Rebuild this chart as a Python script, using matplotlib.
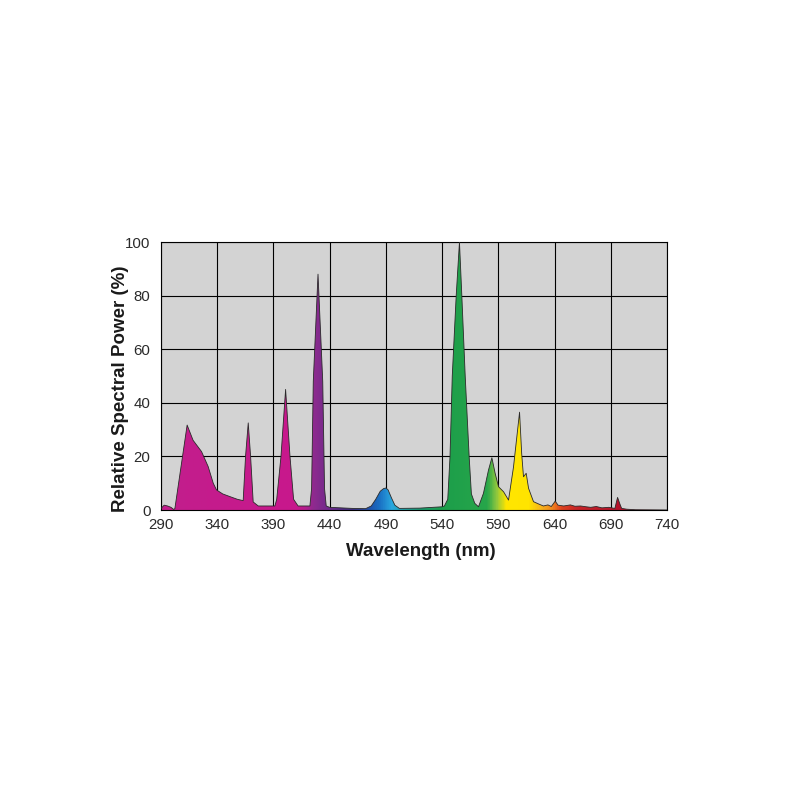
import numpy as np
import matplotlib
matplotlib.use("Agg")
import matplotlib.pyplot as plt
from matplotlib import font_manager
from matplotlib.colors import LinearSegmentedColormap
from matplotlib.patches import Polygon

plt.rcParams['font.family'] = ['Liberation Sans', 'DejaVu Sans']

# Spectrum data (wavelength nm, relative power %)
wavelength = [290, 293, 296, 299, 301.5, 302.5, 313.4, 318.7, 326.2, 332.1, 336.6, 339.5,
              345, 351.4, 358, 363.2, 365.3, 367.7, 369.8, 372.1, 376.6, 391.4,
              393, 396.8, 400.9, 404.8, 408, 412, 422.5, 424, 425.5, 429.7, 433.9,
              435.5, 437, 440, 460, 472, 477, 481, 485, 488, 490, 492, 495, 498, 502,
              520, 540, 542, 545, 547, 549, 552.5, 555.4, 557.5, 560.5, 564, 566,
              569, 572.3, 576.7, 581.2, 584.2, 587.1, 590.1, 594.6, 599, 603.4,
              608.8, 610.7, 612.3, 614.7, 616.8, 621.2, 626, 630, 634, 637, 640.5,
              643, 648, 654, 658, 663, 668, 672, 677, 682, 688, 693.5, 695.9, 698,
              699.5, 704, 712, 740]
power = [0.5, 1.8, 1.5, 1.0, 0.2, 0.5, 31.7, 26.0, 21.8, 16.2, 10.0, 7.5,
         6.0, 5.0, 4.0, 3.5, 20.0, 32.5, 20.0, 3.0, 1.5, 1.5,
         4.0, 20.0, 45.0, 20.0, 4.0, 1.5, 1.5, 8.0, 48.0, 88.0, 48.0,
         8.0, 1.5, 1.0, 0.6, 0.5, 1.5, 4.0, 7.0, 8.0, 8.2, 7.5, 4.5, 1.8, 0.6,
         0.7, 1.2, 1.5, 4.0, 20.0, 50.0, 80.0, 100.0, 80.0, 50.0, 20.0, 6.0,
         2.5, 1.2, 6.2, 14.9, 19.5, 13.7, 8.7, 6.8, 3.7, 16.0,
         36.5, 21.0, 12.4, 13.7, 8.1, 3.1, 2.2, 1.5, 1.9, 1.3, 3.3,
         1.8, 1.5, 1.9, 1.4, 1.5, 1.2, 1.0, 1.3, 0.8, 1.0, 0.6, 4.7, 2.2,
         0.6, 0.3, 0.1, 0.0]

x_ticks = [290, 340, 390, 440, 490, 540, 590, 640, 690, 740]
y_ticks = [0, 20, 40, 60, 80, 100]

# spectral colour anchors (wavelength, colour)
spec_anchors = [(290, '#C21E8C'), (410, '#C8188C'), (418, '#B41E8D'), (425, '#8E2A8F'),
                (440, '#6C2A8A'), (460, '#3C2E82'), (475, '#1F52AA'), (484, '#1A70C4'),
                (495, '#2AA8E0'), (505, '#1FA0A8'), (520, '#1A9A70'), (540, '#1C9E4A'),
                (580, '#27A64A'), (588, '#8CC63F'), (597, '#FFE600'), (617, '#FFE400'),
                (627, '#F7B81A'), (637, '#F08A1E'), (646, '#DE421E'), (660, '#C62428'),
                (690, '#B8162A'), (700, '#B4102A'), (740, '#921020')]

names = {f.name for f in font_manager.fontManager.ttflist}
if 'Liberation Sans Narrow' in names:
    tick_family, tick_size = ['Liberation Sans Narrow', 'DejaVu Sans'], 12
else:
    tick_family, tick_size = ['Liberation Sans', 'DejaVu Sans'], 10.8

fig = plt.figure(figsize=(8, 8), dpi=100)
ax = fig.add_axes([0.201, 0.3625, 0.633, 0.335])
ax.set_facecolor('#D3D3D3')

x0, x1 = 290, 740
cmap = LinearSegmentedColormap.from_list(
    'spec', [((w - x0) / (x1 - x0), c) for w, c in spec_anchors])
grad = np.linspace(0, 1, 1200)[None, :]

verts = list(zip(wavelength, power)) + [(wavelength[-1], 0), (wavelength[0], 0)]
poly = Polygon(verts, closed=True, facecolor='none', edgecolor='none', transform=ax.transData)
ax.add_patch(poly)
im = ax.imshow(grad, extent=[x0, x1, 0, 100], aspect='auto', origin='lower',
               cmap=cmap, zorder=2, interpolation='bilinear')
im.set_clip_path(poly)
ax.plot(wavelength, power, color='#2a2a2a', lw=0.6, zorder=3)

ax.set_xlim(x0, x1)
ax.set_ylim(0, 100)
ax.set_xticks(x_ticks)
ax.set_yticks(y_ticks)
ax.grid(True, color='black', lw=0.8)
ax.set_axisbelow(True)
for s in ax.spines.values():
    s.set_color('black')
    s.set_linewidth(0.8)
ax.tick_params(axis='x', length=0, pad=6, labelcolor='#2a2a2a')
ax.tick_params(axis='y', length=0, pad=7.5, labelcolor='#2a2a2a')
for lab in ax.get_xticklabels() + ax.get_yticklabels():
    lab.set_family(tick_family)
    lab.set_fontsize(tick_size)

fig.text(0.526, 0.311, 'Wavelength (nm)', fontsize=13.5, fontweight='bold',
         color='#1a1a1a', ha='center', va='center')
fig.text(0.151, 0.514, 'Relative Spectral Power (%)', fontsize=13.5, fontweight='bold',
         color='#1a1a1a', ha='center', va='center', rotation=90)

fig.savefig('out.png', dpi=100, facecolor='white')
